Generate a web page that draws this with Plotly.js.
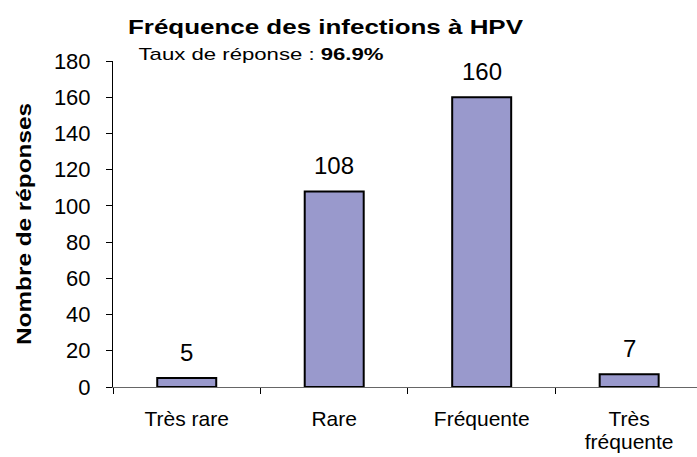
<!DOCTYPE html>
<html><head><meta charset="utf-8">
<script src="https://cdn.plot.ly/plotly-3.0.1.min.js"></script>
<style>body{margin:0;background:#fff}#c{width:697px;height:457px}</style>
</head><body><div id="c"></div>
<script>
const categories = ["Très rare", "Rare", "Fréquente", "Très<br>fréquente"];
const values = [5, 108, 160, 7];
const yTicks = [0, 20, 40, 60, 80, 100, 120, 140, 160, 180];
const titleText = "<b>Fréquence des infections à HPV</b>";
const subtitleText = "Taux de réponse : <b>96.9%</b>";
const yTitle = "<b>Nombre de réponses</b>";

const font = "Arial, Liberation Sans, sans-serif";
const trace = {
  type: "bar", x: categories, y: values, width: 0.4,
  marker: {color: "#9999CC", line: {color: "#000", width: 2}},
  hoverinfo: "none"
};
const annotations = categories.map((c, i) => ({
  x: c, y: values[i], text: String(values[i]), showarrow: false,
  xref: "x", yref: "y", yanchor: "bottom", yshift: 10,
  font: {family: font, size: 24, color: "#000"}
}));
annotations.push({
  xref: "paper", yref: "paper", x: 0.2526, y: 1.0, xanchor: "center", yanchor: "bottom",
  yshift: -5, text: subtitleText, showarrow: false, name: "subtitle",
  font: {family: font, size: 17, color: "#000"}
});
const layout = {
  width: 697, height: 457,
  margin: {l: 113, r: 0, t: 61, b: 70},
  paper_bgcolor: "#fff", plot_bgcolor: "#fff",
  showlegend: false,
  title: {text: titleText, x: 0.467, xanchor: "center", y: 0.941, yanchor: "middle",
          font: {family: font, size: 21, color: "#000"}},
  xaxis: {
    type: "category", range: [-0.5, 3.46], tickson: "boundaries",
    ticks: "outside", ticklen: 6, tickcolor: "#000", tickwidth: 1,
    showline: true, linecolor: "#666", linewidth: 1,
    showgrid: false, zeroline: false, automargin: false, ticklabelstandoff: 13,
    tickfont: {family: font, size: 21, color: "#000"}
  },
  yaxis: {
    range: [0, 180], tickvals: yTicks,
    ticks: "outside", ticklen: 6, tickcolor: "#000", tickwidth: 1,
    showline: true, linecolor: "#000", linewidth: 1,
    showgrid: false, zeroline: false, automargin: false, ticklabelstandoff: 11,
    tickfont: {family: font, size: 22, color: "#000"},
    title: {text: yTitle, standoff: 16, font: {family: font, size: 21, color: "#000"}}
  },
  annotations: annotations
};

// horizontal stretch of the wide text seen in the reference
function stretchText(el, target) {
  if (!el) return;
  el.setAttribute("textLength", target);
  el.setAttribute("lengthAdjust", "spacingAndGlyphs");
}
Plotly.newPlot("c", [trace], layout, {staticPlot: true}).then(gd => {
  stretchText(gd.querySelector(".gtitle"), 395);
  stretchText(gd.querySelector(".ytitle"), 242);
  const ann = gd.querySelectorAll(".annotation-text");
  stretchText(ann[ann.length - 1], 245);
  // tighter line spacing for the two-line tick label
  gd.querySelectorAll(".xtick text tspan.line").forEach((t, i) => {
    if (t.previousElementSibling) t.setAttribute("dy", "1.1em");
  });
});
</script></body></html>
